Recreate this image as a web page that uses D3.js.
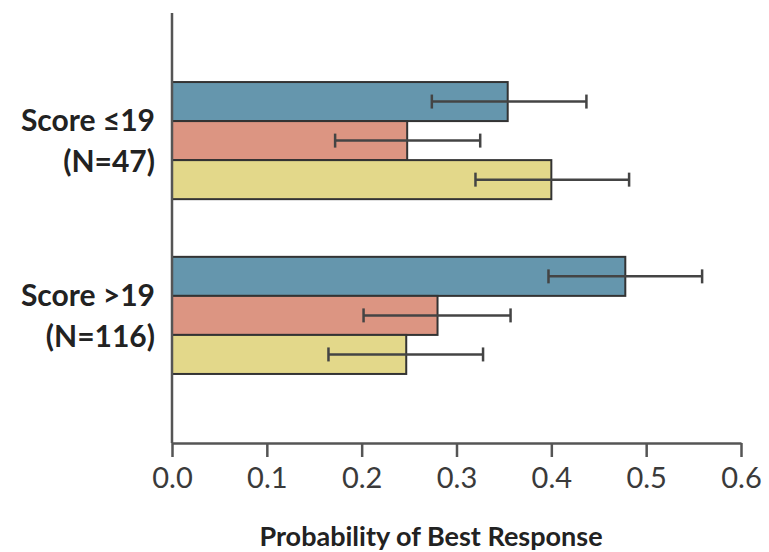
<!DOCTYPE html>
<head>
  <meta charset="utf-8">
  <style>
    body { margin: 0; background: #fff; overflow: hidden; }
    svg { display: block; }
    .axis text {
      fill: #3a3a3a;
      font-family: 'Lato', 'Open Sans', sans-serif;
      font-weight: 400;
      font-size: 29px;
    }
    .axis path, .axis line { stroke: #555; stroke-width: 2.5; }
    .cat-label, .x-title {
      fill: #222;
      font-family: 'Lato', 'Open Sans', sans-serif;
      font-weight: bold;
    }
  </style>
</head>

<body>
  <script src="https://cdn.jsdelivr.net/npm/d3@7"></script>

  <script>
    // data
    const groups = ["Score ≤19", "Score >19"];
    const groupN = ["(N=47)", "(N=116)"];
    const series = ["blue", "red", "yellow"];
    const values = {
      blue:   [0.354, 0.478],
      red:    [0.248, 0.280],
      yellow: [0.400, 0.247]
    };
    const lower = {
      blue:   [0.274, 0.397],
      red:    [0.172, 0.202],
      yellow: [0.320, 0.165]
    };
    const upper = {
      blue:   [0.437, 0.559],
      red:    [0.325, 0.357],
      yellow: [0.482, 0.328]
    };
    const xTicks = [0, 0.1, 0.2, 0.3, 0.4, 0.5, 0.6];
    const colors = { blue: "#6596ad", red: "#dc9582", yellow: "#e3d88a" };

    const width = 769;
    const height = 552;
    const margin = {top: 13, right: 28, bottom: 109, left: 172};
    const innerWidth = width - margin.left - margin.right;
    const innerHeight = height - margin.top - margin.bottom;

    let svg = d3.select("body")
      .append("svg")
      .attr("width", width)
      .attr("height", height)
      .append("g")
      .attr("transform", "translate(" + margin.left + "," + margin.top + ")");

    const xScale = d3.scaleLinear().domain([0, 0.6]).range([0, 569]);
    const yScale = d3.scaleBand().domain(groups).range([0, innerHeight])
      .paddingInner(0.33).paddingOuter(0.395);
    const ySub = d3.scaleBand().domain(series).range([0, yScale.bandwidth()]);

    // rows: one per bar
    let rows = [];
    groups.forEach((g, i) => {
      series.forEach(s => {
        rows.push({group: g, series: s, value: values[s][i], lo: lower[s][i], hi: upper[s][i]});
      });
    });

    // bars
    svg.append("g").selectAll("rect")
      .data(rows).enter().append("rect")
      .attr("x", xScale(0))
      .attr("y", d => yScale(d.group) + ySub(d.series))
      .attr("width", d => xScale(d.value))
      .attr("height", ySub.bandwidth())
      .style("fill", d => colors[d.series])
      .style("stroke", "#333")
      .style("stroke-width", 2);

    // error bars
    const err = svg.append("g").attr("class", "errors")
      .style("stroke", "#444").style("stroke-width", 2.5);
    const capH = 7;
    rows.forEach(d => {
      const cy = yScale(d.group) + ySub(d.series) + ySub.bandwidth() / 2;
      err.append("line")
        .attr("x1", xScale(d.lo)).attr("x2", xScale(d.hi))
        .attr("y1", cy).attr("y2", cy);
      [d.lo, d.hi].forEach(v => {
        err.append("line")
          .attr("x1", xScale(v)).attr("x2", xScale(v))
          .attr("y1", cy - capH).attr("y2", cy + capH);
      });
    });

    // y axis line
    svg.append("line")
      .attr("x1", 0).attr("x2", 0)
      .attr("y1", 0).attr("y2", innerHeight)
      .style("stroke", "#555").style("stroke-width", 2.5);

    // x axis
    const xaxis = d3.axisBottom(xScale)
      .tickValues(xTicks)
      .tickFormat(d3.format(".1f"))
      .tickSizeInner(14)
      .tickSizeOuter(0)
      .tickPadding(10);

    svg.append("g")
      .attr("class", "axis")
      .attr("transform", "translate(0," + innerHeight + ")")
      .call(xaxis);

    svg.append("text")
      .attr("class", "x-title")
      .attr("x", 259)
      .attr("y", innerHeight + 103)
      .attr("text-anchor", "middle")
      .style("font-size", "27px")
      .text("Probability of Best Response");

    // category labels
    groups.forEach((g, i) => {
      const cy = yScale(g) + yScale.bandwidth() / 2;
      svg.append("text")
        .attr("class", "cat-label")
        .attr("x", -17)
        .attr("y", cy - 9.5)
        .attr("text-anchor", "end")
        .style("font-size", "30px")
        .text(g);
      svg.append("text")
        .attr("class", "cat-label")
        .attr("x", -17)
        .attr("y", cy + 31.5)
        .attr("text-anchor", "end")
        .style("font-size", "30px")
        .text(groupN[i]);
    });
  </script>
</body>
